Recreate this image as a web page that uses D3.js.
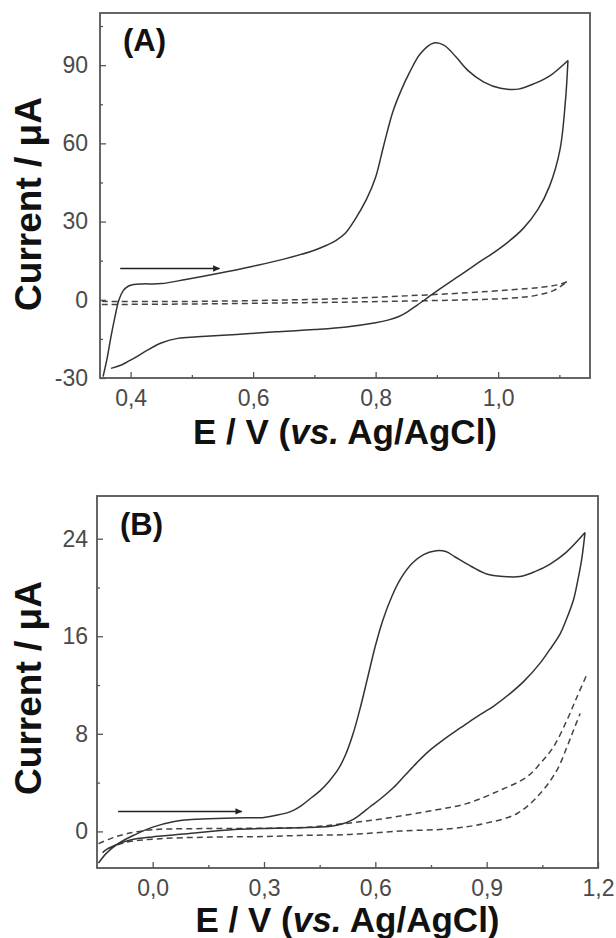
<!DOCTYPE html>
<html>
<head>
<meta charset="utf-8">
<script src="https://cdn.jsdelivr.net/npm/d3@7"></script>
<style>
  html, body { margin: 0; padding: 0; background: #fff; }
  svg { display: block; }
</style>
</head>
<body>
<svg id="chart" width="616" height="938"></svg>
<script>
// ---- Panel A: cyclic voltammogram, E / V vs current / µA ----
const aForward = [
  [0.355,-29.5],[0.362,-22],[0.368,-14],[0.374,-7],[0.381,0],[0.388,3.5],[0.396,5.2],
  [0.405,5.9],[0.42,6.1],[0.45,6.2],[0.49,7.8],[0.54,10.0],[0.6,12.9],[0.65,15.6],
  [0.7,19.0],[0.72,20.9],[0.735,22.7],[0.75,25.4],[0.765,30.3],[0.785,38.5],
  [0.8,47.0],[0.813,59],[0.828,72],[0.842,80.5],[0.855,87],[0.873,94.4],[0.895,98.5],
  [0.912,97.6],[0.931,93.2],[0.95,88.1],[0.976,83.6],[1.004,81.1],[1.033,80.8],
  [1.06,83],[1.085,86],[1.114,91.8]
];
const aReverse = [
  [1.114,91.8],[1.11,76.6],[1.101,57.6],[1.084,43.6],[1.065,34.7],[1.04,27.1],
  [1.001,19.4],[0.969,14.4],[0.937,9.3],[0.905,4.2],[0.886,1.0],[0.867,-2.2],
  [0.852,-4.6],[0.838,-6.4],[0.82,-7.8],[0.8,-8.8],[0.752,-10.4],[0.7,-11.4],
  [0.637,-12.3],[0.573,-13.3],[0.509,-14.2],[0.477,-14.8],[0.451,-16.5],
  [0.426,-19.5],[0.405,-22.5],[0.385,-25],[0.368,-26.3]
];
const aBlankUpper = [
  [0.353,-0.6],[0.45,-0.7],[0.55,-0.5],[0.65,-0.1],[0.75,0.5],[0.85,1.5],
  [0.95,2.7],[1.02,3.8],[1.07,4.8],[1.1,5.9],[1.115,7.2]
];
const aBlankLower = [
  [0.353,-1.8],[0.45,-1.7],[0.55,-1.5],[0.65,-1.2],[0.75,-0.9],[0.85,-0.5],
  [0.95,0.0],[1.02,0.6],[1.06,1.6],[1.09,3.5],[1.112,6.8]
];
const aXDomain = [0.35, 1.15];
const aYDomain = [-30, 110];
const aXTicks = [0.4, 0.6, 0.8, 1.0];
const aXMinor = [0.5, 0.7, 0.9, 1.1];
const aYTicks = [-30, 0, 30, 60, 90];
const aYMinor = [-15, 15, 45, 75, 105];
const aArrow = [[0.383, 12], [0.545, 12]];

// ---- Panel B ----
const bForward = [
  [-0.146,-2.6],[-0.125,-1.8],[-0.093,-1.0],[-0.05,-0.3],[0,0.35],[0.055,0.8],
  [0.12,1.0],[0.22,1.1],[0.3,1.15],[0.33,1.3],[0.37,1.6],[0.4,2.1],[0.425,2.7],
  [0.45,3.3],[0.475,4.1],[0.5,5.1],[0.52,6.3],[0.54,8.0],[0.56,10.2],[0.58,12.7],
  [0.6,15.2],[0.62,17.3],[0.645,19.3],[0.67,20.8],[0.7,22.0],[0.73,22.7],
  [0.76,23.0],[0.79,22.95],[0.815,22.5],[0.86,21.7],[0.9,21.1],[0.945,20.9],
  [0.99,20.9],[1.03,21.3],[1.07,21.9],[1.115,22.9],[1.165,24.5]
];
const bReverse = [
  [1.165,24.5],[1.156,22.3],[1.145,20.5],[1.134,19.0],[1.115,17.4],[1.098,16.2],
  [1.07,14.9],[1.044,13.8],[1.0,12.3],[0.963,11.3],[0.92,10.3],[0.873,9.4],
  [0.83,8.5],[0.783,7.5],[0.745,6.6],[0.711,5.6],[0.68,4.6],[0.649,3.6],
  [0.615,2.7],[0.585,2.0],[0.56,1.4],[0.535,0.9],[0.51,0.6],[0.48,0.42],
  [0.44,0.35],[0.4,0.3],[0.33,0.25],[0.22,0.15],[0.12,-0.1],[0.055,-0.3],
  [0,-0.45],[-0.06,-0.7],[-0.1,-1.1],[-0.125,-1.5],[-0.135,-1.75]
];
const bBlankUpper = [
  [-0.146,-1.0],[-0.11,-0.55],[-0.07,-0.19],[0.0,0.14],[0.1,0.22],[0.25,0.25],
  [0.42,0.35],[0.514,0.63],[0.621,1.04],[0.756,1.73],[0.846,2.28],[0.936,3.37],
  [1.008,4.46],[1.044,5.56],[1.08,6.93],[1.116,9.1],[1.143,11.0],[1.169,12.8]
];
const bBlankLower = [
  [-0.12,-1.4],[-0.07,-0.88],[0.02,-0.6],[0.15,-0.47],[0.3,-0.42],[0.397,-0.33],
  [0.532,-0.25],[0.666,0.03],[0.801,0.22],[0.891,0.63],[0.981,1.45],[1.044,3.1],
  [1.089,5.0],[1.116,6.9],[1.134,8.3],[1.152,9.67]
];
const bXDomain = [-0.15, 1.2];
const bYDomain = [-3, 27.5];
const bXTicks = [0.0, 0.3, 0.6, 0.9, 1.2];
const bXMinor = [0.15, 0.45, 0.75, 1.05];
const bYTicks = [0, 8, 16, 24];
const bYMinor = [4, 12, 20];
const bArrow = [[-0.093, 1.64], [0.24, 1.64]];

const xTitle = ["E / V (", "vs.", " Ag/AgCl)"];
const yTitle = "Current / \u03BCA";

const svg = d3.select("#chart");
const fmtComma = v => d3.format(".1f")(v).replace(".", ",");
const fmtInt = v => String(v);   // plain hyphen-minus, e.g. "-30"

svg.append("defs").append("marker")
  .attr("id", "arrowhead")
  .attr("viewBox", "0 -5 10 10")
  .attr("refX", 9).attr("refY", 0)
  .attr("markerWidth", 9).attr("markerHeight", 7)
  .attr("markerUnits", "userSpaceOnUse")
  .attr("orient", "auto")
  .append("path").attr("d", "M0,-4.5L10,0L0,4.5Z").attr("fill", "#222");

function drawPanel(p) {
  const g = svg.append("g");
  const x = d3.scaleLinear().domain(p.xDomain).range([p.left, p.right]);
  const y = d3.scaleLinear().domain(p.yDomain).range([p.bottom, p.top]);

  // minor ticks
  g.append("g").attr("transform", `translate(0,${p.bottom})`)
    .call(d3.axisBottom(x).tickValues(p.xMinor).tickSizeInner(-3).tickSizeOuter(0).tickFormat(""))
    .call(a => a.select(".domain").remove());
  g.append("g").attr("transform", `translate(${p.left},0)`)
    .call(d3.axisLeft(y).tickValues(p.yMinor).tickSizeInner(-3).tickSizeOuter(0).tickFormat(""))
    .call(a => a.select(".domain").remove());

  // major ticks + labels
  const xa = g.append("g").attr("transform", `translate(0,${p.bottom})`)
    .call(d3.axisBottom(x).tickValues(p.xTicks).tickSizeInner(-6).tickSizeOuter(0)
      .tickPadding(12).tickFormat(fmtComma));
  xa.select(".domain").remove();
  const ya = g.append("g").attr("transform", `translate(${p.left},0)`)
    .call(d3.axisLeft(y).tickValues(p.yTicks).tickSizeInner(-6).tickSizeOuter(0)
      .tickPadding(p.yPad).tickFormat(fmtInt));
  ya.select(".domain").remove();
  g.selectAll(".tick line").attr("stroke", "#555").attr("stroke-width", 1.3);
  g.selectAll(".tick text")
    .attr("fill", "#4a4a4a")
    .style("font-family", "'Liberation Sans', Arial, sans-serif")
    .style("font-size", "23px");

  // frame
  g.append("rect")
    .attr("x", p.left).attr("y", p.top)
    .attr("width", p.right - p.left).attr("height", p.bottom - p.top)
    .attr("fill", "none").attr("stroke", "#555").attr("stroke-width", 1.8);

  const line = d3.line().x(d => x(d[0])).y(d => y(d[1])).curve(d3.curveCatmullRom.alpha(0.5));

  // blank (dashed) scans
  [p.blankUpper, p.blankLower].forEach(s => {
    g.append("path").datum(s).attr("d", line)
      .attr("fill", "none").attr("stroke", "#444").attr("stroke-width", 1.5)
      .attr("stroke-dasharray", "6,4");
  });
  // sample scans (solid)
  [p.forward, p.reverse].forEach(s => {
    g.append("path").datum(s).attr("d", line)
      .attr("fill", "none").attr("stroke", "#333").attr("stroke-width", 1.5);
  });

  // scan direction arrow
  g.append("line")
    .attr("x1", x(p.arrow[0][0])).attr("y1", y(p.arrow[0][1]))
    .attr("x2", x(p.arrow[1][0])).attr("y2", y(p.arrow[1][1]))
    .attr("stroke", "#222").attr("stroke-width", 1.5)
    .attr("marker-end", "url(#arrowhead)");

  // panel letter
  g.append("text")
    .attr("x", p.left + 23).attr("y", p.letterY)
    .style("font-family", "'Liberation Sans', Arial, sans-serif")
    .style("font-weight", "bold").style("font-size", "31px")
    .attr("fill", "#111")
    .text(p.letter);

  // axis titles
  const xt = g.append("text")
    .attr("x", (p.left + p.right) / 2).attr("y", p.xTitleY)
    .attr("text-anchor", "middle")
    .style("font-family", "'Liberation Sans', Arial, sans-serif")
    .style("font-weight", "bold").style("font-size", "35px")
    .attr("fill", "#111");
  xt.append("tspan").text(xTitle[0]);
  xt.append("tspan").style("font-style", "italic").text(xTitle[1]);
  xt.append("tspan").text(xTitle[2]);

  g.append("text")
    .attr("transform", `translate(${p.yTitleX},${p.yTitleCenter}) rotate(-90)`)
    .attr("text-anchor", "middle")
    .style("font-family", "'Liberation Sans', Arial, sans-serif")
    .style("font-weight", "bold").style("font-size", "37px")
    .attr("fill", "#111")
    .text(yTitle);
}

drawPanel({
  left: 100, right: 590, top: 13, bottom: 378,
  xDomain: aXDomain, yDomain: aYDomain,
  xTicks: aXTicks, xMinor: aXMinor, yTicks: aYTicks, yMinor: aYMinor,
  forward: aForward, reverse: aReverse, blankUpper: aBlankUpper, blankLower: aBlankLower,
  arrow: aArrow, letter: "(A)", letterY: 51, yPad: 12,
  xTitleY: 444, yTitleX: 41, yTitleCenter: 204
});

drawPanel({
  left: 97, right: 598, top: 496, bottom: 868,
  xDomain: bXDomain, yDomain: bYDomain,
  xTicks: bXTicks, xMinor: bXMinor, yTicks: bYTicks, yMinor: bYMinor,
  forward: bForward, reverse: bReverse, blankUpper: bBlankUpper, blankLower: bBlankLower,
  arrow: bArrow, letter: "(B)", letterY: 535, yPad: 9,
  xTitleY: 932, yTitleX: 41, yTitleCenter: 688
});
</script>
</body>
</html>
